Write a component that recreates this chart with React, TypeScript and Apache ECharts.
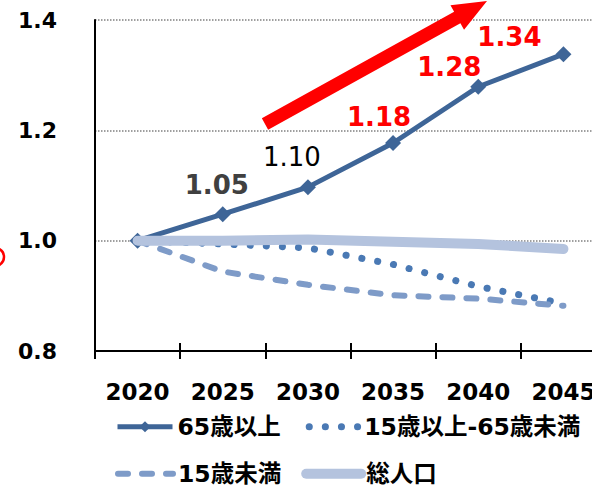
import React, { useEffect, useRef } from "react";
import * as echarts from "echarts";

const categories = ["2020", "2025", "2030", "2035", "2040", "2045"];
const elderly = [1.0, 1.048, 1.097, 1.177, 1.279, 1.338];
const working = [1.0, 0.994, 0.987, 0.957, 0.917, 0.886];
const children = [1.0, 0.944, 0.92, 0.901, 0.895, 0.882];
const total = [1.0, 1.0, 1.002, 0.998, 0.994, 0.985];
const seriesNames = ["65歳以上", "15歳以上-65歳未満", "15歳未満", "総人口"];
const yTicks = { min: 0.8, max: 1.4, interval: 0.2 };

const FONT = "'DejaVu Sans', 'Noto Sans CJK JP', sans-serif";

function arrowPoints(tx: number, ty: number, px: number, py: number, sw: number, hw: number, hl: number) {
  const dx = px - tx, dy = py - ty;
  const L = Math.hypot(dx, dy);
  const ux = dx / L, uy = dy / L;
  const nx = -uy, ny = ux;
  const bx = px - ux * hl, by = py - uy * hl;
  return [
    [tx + nx * sw, ty + ny * sw],
    [bx + nx * sw, by + ny * sw],
    [bx + nx * hw, by + ny * hw],
    [px, py],
    [bx - nx * hw, by - ny * hw],
    [bx - nx * sw, by - ny * sw],
    [tx - nx * sw, ty - ny * sw],
  ];
}

export default function App() {
  const ref = useRef<HTMLDivElement>(null);
  useEffect(() => {
    if (!ref.current) return;
    const chart = echarts.init(ref.current, undefined, { renderer: "svg" });
    const labelCfg = [
      null,
      { offset: [-6, -8], color: "#404040", fontWeight: "bold" },
      { offset: [-16, -9], color: "#000000", fontWeight: "normal" },
      { offset: [-14, -5], color: "#ff0000", fontWeight: "bold" },
      { offset: [-29, 1], color: "#ff0000", fontWeight: "bold" },
      { offset: [-54, 4], color: "#ff0000", fontWeight: "bold" },
    ];
    const elderlyData = elderly.map((v, i) => {
      const c = labelCfg[i];
      if (!c) return { value: v };
      return {
        value: v,
        label: {
          show: true,
          position: "top",
          distance: 0,
          offset: c.offset,
          color: c.color,
          fontWeight: c.fontWeight,
          fontSize: 26,
          fontFamily: FONT,
          formatter: (p: any) => Number(p.value).toFixed(2),
        },
      };
    });
    const legendText = { fontSize: 23.5, fontWeight: "bold", color: "#000", fontFamily: FONT };
    const option: any = {
      animation: false,
      textStyle: { fontFamily: FONT },
      grid: { left: 95, top: 20, width: 511, height: 331, containLabel: false },
      xAxis: [
        {
          type: "category",
          data: categories,
          boundaryGap: true,
          axisLine: { lineStyle: { color: "#000", width: 2 } },
          axisTick: { show: true, length: 8, lineStyle: { color: "#000", width: 2 } },
          axisLabel: { interval: 0, fontSize: 23, fontWeight: "bold", color: "#000", margin: 29, fontFamily: FONT },
          splitLine: { show: false },
        },
        {
          type: "category",
          data: categories,
          boundaryGap: true,
          position: "bottom",
          axisLine: { show: false },
          axisTick: { show: true, inside: true, length: 8, lineStyle: { color: "#000", width: 2 } },
          axisLabel: { show: false },
          splitLine: { show: false },
        },
      ],
      yAxis: {
        type: "value",
        min: yTicks.min,
        max: yTicks.max,
        interval: yTicks.interval,
        axisLine: { show: true, lineStyle: { color: "#000", width: 2 } },
        axisTick: { show: false },
        axisLabel: {
          fontSize: 22,
          fontWeight: "bold",
          color: "#000",
          margin: 38,
          fontFamily: FONT,
          formatter: (v: number) => v.toFixed(1),
        },
        splitLine: { show: true, lineStyle: { type: "dotted", color: "#808080", width: 1.5 } },
      },
      legend: [
        {
          data: [
            { name: seriesNames[0], lineStyle: { width: 5 } },
            { name: seriesNames[1], lineStyle: { width: 7, dashOffset: -5 } },
          ],
          left: 110,
          top: 410,
          width: 560,
          itemWidth: 55,
          itemHeight: 14,
          itemGap: 20,
          textStyle: legendText,
        },
        {
          data: [
            { name: seriesNames[2], lineStyle: { width: 6 } },
            { name: seriesNames[3], lineStyle: { width: 10 } },
          ],
          left: 110,
          top: 457,
          width: 560,
          itemWidth: 55,
          itemHeight: 14,
          itemGap: 20,
          textStyle: legendText,
        },
      ],
      series: [
        {
          name: seriesNames[0],
          type: "line",
          data: elderlyData,
          symbol: "diamond",
          symbolSize: 16,
          showSymbol: true,
          lineStyle: { color: "#3e6597", width: 5 },
          itemStyle: { color: "#3e6597" },
          z: 3,
        },
        {
          name: seriesNames[1],
          type: "line",
          data: working,
          symbol: "none",
          lineStyle: { color: "#4a79b4", width: 7, type: [0.1, 16], cap: "round" },
          itemStyle: { color: "#4a79b4", opacity: 0 },
          z: 2,
        },
        {
          name: seriesNames[2],
          type: "line",
          data: children,
          symbol: "none",
          lineStyle: { color: "#7e9bc8", width: 6, type: [10, 14], cap: "round" },
          itemStyle: { color: "#7e9bc8", opacity: 0 },
          z: 2,
        },
        {
          name: seriesNames[3],
          type: "line",
          data: total,
          symbol: "none",
          lineStyle: { color: "#b4c3de", width: 10, cap: "round" },
          itemStyle: { color: "#b4c3de", opacity: 0 },
          z: 4,
        },
      ],
      graphic: [
        {
          type: "polygon",
          shape: { points: arrowPoints(265, 124, 487, 1, 6.5, 14, 34) },
          style: { fill: "#ff0000" },
          z: 10,
        },
        {
          type: "circle",
          shape: { cx: -5, cy: 257, r: 9 },
          style: { fill: "none", stroke: "#ff0000", lineWidth: 2.5 },
          z: 10,
        },
      ],
    };
    chart.setOption(option);
    return () => chart.dispose();
  }, []);
  return (
    <div
      style={{ position: "absolute", left: 0, top: 0, width: 592, height: 486, overflow: "hidden", background: "#fff" }}
    >
      <div ref={ref} style={{ width: 660, height: 486 }} />
    </div>
  );
}
